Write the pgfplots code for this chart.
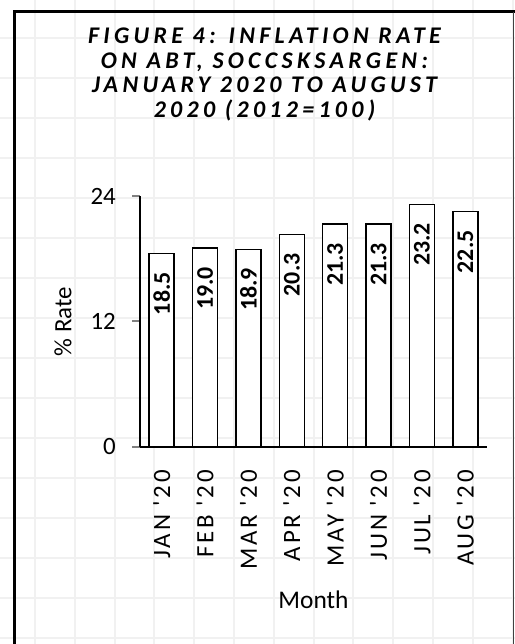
\documentclass[border=0pt]{standalone}
\usepackage{fontspec}
\setmainfont{Carlito}
\newfontfamily\titlefont[LetterSpace=18]{Carlito}
\newfontfamily\tickfont[LetterSpace=11,Ligatures=TeXOff]{Carlito}
\usepackage{pgfplots}
\pgfplotsset{compat=1.18}
\definecolor{sheetgrid}{HTML}{F1F1F1}

\begin{document}
\begin{tikzpicture}[x=1bp,y=1bp]
\useasboundingbox (0,0) rectangle (515,644);
% spreadsheet cells behind the chart
\foreach \gx in {35,74.8,...,515} \draw[sheetgrid, line width=2bp] (\gx,0) -- (\gx,644);
\foreach \gy in {6,46,...,644} \draw[sheetgrid, line width=2bp] (0,\gy) -- (515,\gy);
% chart frame
\draw[line width=3bp] (14,-2) -- (14,632) -- (516,632);
\draw[line width=1bp, black!75] (513,632) -- (513,-2);

\node[align=center, font=\titlefont\bfseries\itshape\fontsize{24}{25}\selectfont]
  at (264.5,569.5) {FIGURE 4: INFLATION RATE\\ON ABT, SOCCSKSARGEN:\\JANUARY 2020 TO AUGUST\\2020 (2012=100)};

\begin{axis}[
  at={(140bp,197bp)}, anchor=south west, scale only axis,
  width=347bp, height=251bp,
  xmin=-0.5, xmax=7.5, ymin=0, ymax=24,
  /pgf/number format/assume math mode=true,
  axis x line=bottom, axis y line=left,
  axis line style={-, line width=2.2bp},
  xtick=data,
  xticklabels={JAN '20, FEB '20, MAR '20, APR '20, MAY '20, JUN '20, JUL '20, AUG '20},
  xtick style={draw=none},
  xticklabel style={rotate=90, anchor=east, inner sep=0pt, xshift=-15bp,
    font=\tickfont\fontsize{25}{25}\selectfont},
  ytick={0,12,24},
  tick align=outside, major tick length=8bp,
  ytick style={line width=2bp},
  yticklabel style={inner sep=0pt, xshift=-16bp, font=\fontsize{25}{25}\selectfont},
  ylabel={\% Rate}, xlabel={Month},
  every axis y label/.style={at={(axis description cs:-0.222,0.5)}, rotate=90, anchor=center,
    font=\fontsize{25}{25}\selectfont},
  every axis x label/.style={at={(axis description cs:0.5,-0.61)}, anchor=center,
    font=\fontsize{25.5}{25.5}\selectfont},
  ybar, bar width=25bp,
  nodes near coords={\pgfmathprintnumber[fixed, fixed zerofill, precision=1]{\pgfplotspointmeta}},
  every node near coord/.append style={rotate=90, anchor=east, inner sep=0pt, xshift=-18bp,
    font=\bfseries\fontsize{24}{24}\selectfont},
]
\addplot[fill=white, draw=black, line width=1.6bp] coordinates {
  (0,18.5) (1,19.0) (2,18.9) (3,20.3) (4,21.3) (5,21.3) (6,23.2) (7,22.5)
};
\end{axis}
\end{tikzpicture}
\end{document}
